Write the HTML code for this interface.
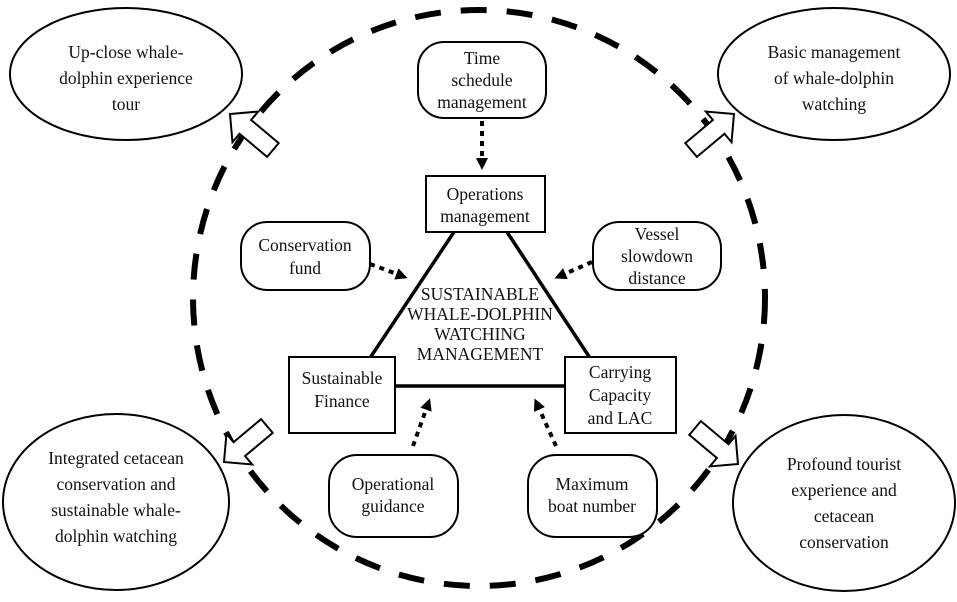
<!DOCTYPE html>
<html><head><meta charset="utf-8"><style>
body{margin:0;background:#fff}
svg text{font-family:"Liberation Serif",serif;font-size:17.5px;fill:#111;text-anchor:middle}
</style></head><body>
<svg width="957" height="597" viewBox="0 0 957 597" xmlns="http://www.w3.org/2000/svg">
<defs>
<marker id="ah" markerWidth="12" markerHeight="12" refX="6" refY="6" orient="auto" markerUnits="userSpaceOnUse"><path d="M0,0 L12,6 L0,12 z" fill="#000"/></marker>
<g id="harrow"><polygon points="0,0 -20,-20 -20,-9 -56,-9 -56,9 -20,9 -20,20" fill="#fff" stroke="#000" stroke-width="2"/></g>
</defs>
<ellipse cx="479" cy="298" rx="286" ry="288" fill="none" stroke="#000" stroke-width="6" stroke-dasharray="26,20"/>
<ellipse cx="126" cy="74" rx="116" ry="66" fill="#fff" stroke="#000" stroke-width="2"/>
<text x="126" y="58">Up-close whale-</text><text x="126" y="84">dolphin  experience</text><text x="126" y="110">tour</text>
<ellipse cx="834" cy="74" rx="116" ry="66" fill="#fff" stroke="#000" stroke-width="2"/>
<text x="834" y="58">Basic management</text><text x="834" y="84">of whale-dolphin</text><text x="834" y="110">watching</text>
<ellipse cx="116" cy="502" rx="113" ry="88" fill="#fff" stroke="#000" stroke-width="2"/>
<text x="116" y="464">Integrated cetacean</text><text x="116" y="490">conservation  and</text><text x="116" y="516">sustainable whale-</text><text x="116" y="542">dolphin watching</text>
<ellipse cx="844" cy="503" rx="111" ry="88" fill="#fff" stroke="#000" stroke-width="2"/>
<text x="844" y="470">Profound tourist</text><text x="844" y="496">experience and</text><text x="844" y="522">cetacean</text><text x="844" y="548">conservation</text>
<use href="#harrow" transform="translate(230,114) rotate(-140)"/>
<use href="#harrow" transform="translate(734,114) rotate(-40)"/>
<use href="#harrow" transform="translate(224,462) rotate(140)"/>
<use href="#harrow" transform="translate(738,464) rotate(40)"/>
<g stroke="#000" stroke-width="3.5" fill="none">
<line x1="454" y1="232" x2="370" y2="358"/>
<line x1="507" y1="232" x2="590" y2="358"/>
<line x1="394" y1="386" x2="566" y2="386"/>
</g>
<rect x="426" y="176" width="119" height="56" fill="#fff" stroke="#000" stroke-width="2"/>
<text x="485" y="200">Operations</text><text x="485" y="222">management</text>
<rect x="289" y="357" width="106" height="76" fill="#fff" stroke="#000" stroke-width="2"/>
<text x="342" y="384">Sustainable</text><text x="342" y="407">Finance</text>
<rect x="565" y="357" width="111" height="76" fill="#fff" stroke="#000" stroke-width="2"/>
<text x="620" y="378">Carrying</text><text x="620" y="401">Capacity</text><text x="620" y="424">and LAC</text>
<text x="480" y="300">SUSTAINABLE</text><text x="480" y="320">WHALE-DOLPHIN</text><text x="480" y="340">WATCHING</text><text x="480" y="360">MANAGEMENT</text>
<rect x="418" y="42" width="128" height="76" rx="26" fill="#fff" stroke="#000" stroke-width="2"/>
<text x="482" y="64">Time</text><text x="482" y="86">schedule</text><text x="482" y="108">management</text>
<rect x="241" y="222" width="129" height="68" rx="26" fill="#fff" stroke="#000" stroke-width="2"/>
<text x="305" y="251">Conservation</text><text x="305" y="274">fund</text>
<rect x="593" y="222" width="128" height="68" rx="26" fill="#fff" stroke="#000" stroke-width="2"/>
<text x="657" y="240">Vessel</text><text x="657" y="262">slowdown</text><text x="657" y="284">distance</text>
<rect x="329" y="455" width="129" height="82" rx="28" fill="#fff" stroke="#000" stroke-width="2"/>
<text x="393" y="490">Operational</text><text x="393" y="512">guidance</text>
<rect x="528" y="455" width="129" height="82" rx="28" fill="#fff" stroke="#000" stroke-width="2"/>
<text x="592" y="490">Maximum</text><text x="592" y="512">boat number</text>
<g stroke="#000" stroke-width="4" stroke-dasharray="5,5" marker-end="url(#ah)">
<line x1="482" y1="121" x2="482" y2="164"/>
<line x1="370" y1="264" x2="402" y2="276"/>
<line x1="592" y1="262" x2="560" y2="276"/>
<line x1="413" y1="446" x2="428" y2="404"/>
<line x1="556" y1="446" x2="537" y2="404"/>
</g>
</svg>
</body></html>
